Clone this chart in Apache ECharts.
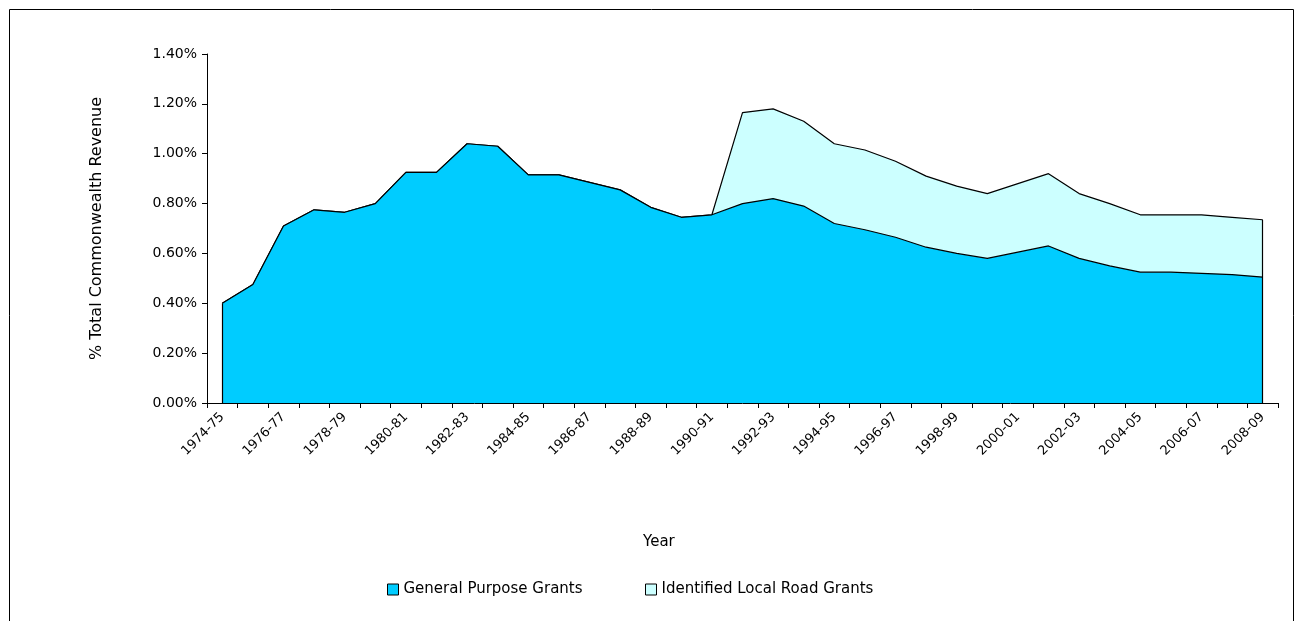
<!DOCTYPE html>
<html>
<head>
<meta charset="utf-8">
<script src="https://cdn.jsdelivr.net/npm/echarts@6/dist/echarts.min.js"></script>
<style>
html,body{margin:0;padding:0;background:#fff;}
#chart{width:1303px;height:621px;}
</style>
</head>
<body>
<div id="chart"></div>
<script>
const years = ['1974-75','1975-76','1976-77','1977-78','1978-79','1979-80','1980-81','1981-82','1982-83','1983-84',
  '1984-85','1985-86','1986-87','1987-88','1988-89','1989-90','1990-91','1991-92','1992-93','1993-94',
  '1994-95','1995-96','1996-97','1997-98','1998-99','1999-00','2000-01','2001-02','2002-03','2003-04',
  '2004-05','2005-06','2006-07','2007-08','2008-09'];
const generalPurpose = [0.40,0.475,0.71,0.775,0.765,0.80,0.925,0.925,1.04,1.03,
  0.915,0.915,0.885,0.855,0.785,0.745,0.755,0.80,0.82,0.79,
  0.72,0.695,0.665,0.625,0.60,0.58,0.605,0.63,0.58,0.55,
  0.525,0.525,0.52,0.515,0.505];
const localRoad = [0,0,0,0,0,0,0,0,0,0,
  0,0,0,0,0,0,0,0.365,0.36,0.34,
  0.32,0.32,0.305,0.285,0.27,0.26,0.275,0.29,0.26,0.25,
  0.23,0.23,0.235,0.23,0.23];
const yTicks = {min:0, max:1.4, interval:0.2};

const chart = echarts.init(document.getElementById('chart'));
const font = 'DejaVu Sans, Verdana, sans-serif';
const last = years.length - 1;
const edgeLines = [
  [{coord:[years[0],0]},{coord:[years[0],generalPurpose[0]+localRoad[0]]}],
  [{coord:[years[last],0]},{coord:[years[last],generalPurpose[last]+localRoad[last]]}]
];
const legendBase = {top:577, itemWidth:11, itemHeight:11, icon:'rect',
  textStyle:{fontFamily:font,fontSize:15,color:'#000'}};
chart.setOption({
  animation:false,
  backgroundColor:'#fff',
  textStyle:{fontFamily:font},
  graphic:[{type:'rect',shape:{x:9.5,y:9.5,width:1284,height:640},style:{fill:'none',stroke:'#000',lineWidth:1},silent:true}],
  title:{text:'Year',left:638,top:530,textStyle:{fontFamily:font,fontSize:15,fontWeight:'normal',color:'#000'}},
  legend:[
    Object.assign({}, legendBase, {left:382, data:[{name:'General Purpose Grants',itemStyle:{color:'#00CCFF',borderColor:'#000',borderWidth:1}}]}),
    Object.assign({}, legendBase, {left:640, data:[{name:'Identified Local Road Grants',itemStyle:{color:'#CCFFFF',borderColor:'#000',borderWidth:1}}]})
  ],
  grid:{left:207,right:25,top:54,bottom:218,containLabel:false},
  xAxis:{
    type:'category', data:years, boundaryGap:true,
    axisLine:{lineStyle:{color:'#000',width:1}},
    axisTick:{show:true,interval:0,length:5,lineStyle:{color:'#000'}},
    axisLabel:{interval:1,rotate:45,fontFamily:font,fontSize:13,color:'#000',margin:12}
  },
  yAxis:{
    type:'value', min:yTicks.min, max:yTicks.max, interval:yTicks.interval,
    name:'% Total Commonwealth Revenue', nameLocation:'middle', nameGap:102,
    nameTextStyle:{fontFamily:font,fontSize:16,color:'#000'},
    axisLine:{show:true,lineStyle:{color:'#000',width:1}},
    axisTick:{show:true,length:5,lineStyle:{color:'#000'}},
    splitLine:{show:false},
    axisLabel:{fontFamily:font,fontSize:14,color:'#000',margin:10,formatter:v=>v.toFixed(2)+'%'}
  },
  series:[
    {name:'General Purpose Grants',type:'line',stack:'t',data:generalPurpose,symbol:'none',
      lineStyle:{color:'#000',width:1.2},areaStyle:{color:'#00CCFF',opacity:1},itemStyle:{color:'#00CCFF'},
      markLine:{silent:true,symbol:'none',label:{show:false},lineStyle:{color:'#000',width:1.2,type:'solid'},data:edgeLines},
      z:3},
    {name:'Identified Local Road Grants',type:'line',stack:'t',data:localRoad,symbol:'none',
      lineStyle:{color:'#000',width:1.2},areaStyle:{color:'#CCFFFF',opacity:1},itemStyle:{color:'#CCFFFF'},z:2}
  ]
});
</script>
</body>
</html>
